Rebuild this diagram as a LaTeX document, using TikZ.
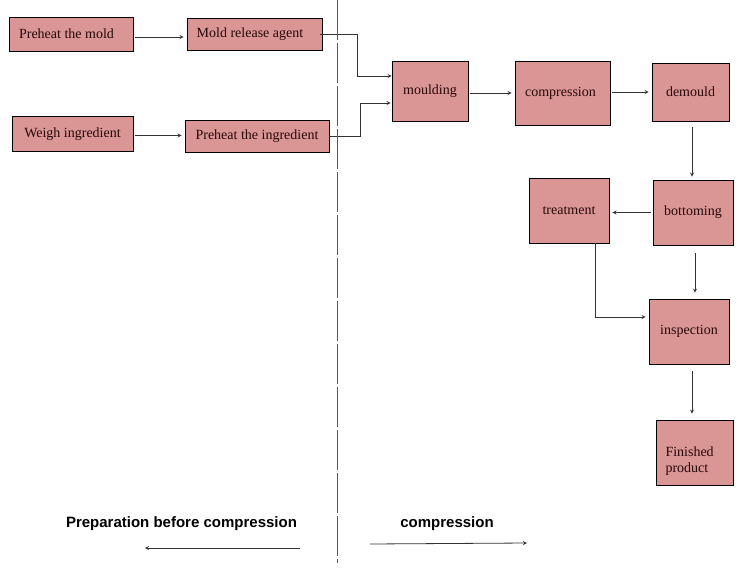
\documentclass[tikz,border=0pt]{standalone}
\usepackage{fontspec}
\setmainfont{Liberation Serif}
\newfontfamily\phasefont{Liberation Sans}
\usetikzlibrary{shapes.geometric, arrows}
\definecolor{boxpink}{RGB}{217,150,148}
\definecolor{boxtext}{RGB}{40,8,8}
\tikzstyle{process} = [rectangle, inner sep=0pt, text centered, draw=black, line width=0.8pt, fill=boxpink, text=boxtext, font=\fontsize{14}{16}\selectfont]
\tikzstyle{arrow} = [line width=0.8pt, draw=black!80, ->, >=stealth, shorten <=2pt, shorten >=3pt]
\tikzstyle{phase} = [font=\phasefont\bfseries\fontsize{15}{18}\selectfont, inner sep=0pt]
\begin{document}
\begin{tikzpicture}[node distance=100pt]
      \useasboundingbox (0,0) rectangle (753pt,-576pt);

      \node (mold) [process, minimum width=124pt, minimum height=34pt] at (71pt,-34pt) {Preheat the mold\hspace*{9pt}};
      \node (release) [process, right of=mold, xshift=83.5pt, minimum width=135pt, minimum height=32pt] {Mold release agent\hspace*{9pt}};
      \node (weigh) [process, below of=mold, xshift=1.5pt, minimum width=121pt, minimum height=35pt] {Weigh ingredient};
      \node (heating) [process, right of=weigh, xshift=84.5pt, yshift=-2.5pt, minimum width=144pt, minimum height=32pt] {Preheat the ingredient};
      \node (moulding) [process, right of=release, xshift=75.5pt, yshift=-57pt, minimum width=76pt, minimum height=60pt] {moulding};
      \node (compress) [process, right of=moulding, xshift=32.5pt, yshift=-2pt, minimum width=95pt, minimum height=64pt] {compression\hspace*{4pt}};
      \node (demould) [process, right of=compress, xshift=28pt, yshift=1pt, minimum width=77pt, minimum height=58pt] {demould};
      \node (bottoming) [process, below of=demould, xshift=2.5pt, yshift=-20.5pt, minimum width=80pt, minimum height=65pt] {bottoming};
      \node (treatment) [process, left of=bottoming, xshift=-24pt, yshift=2pt, minimum width=80pt, minimum height=65pt] {treatment};
      \node (inspection) [process, below of=bottoming, xshift=-4pt, yshift=-19pt, minimum width=80pt, minimum height=65pt] {inspection};
      \node (finished) [process, below of=inspection, xshift=5.5pt, yshift=-21pt, minimum width=77pt, minimum height=65pt] {\parbox{58pt}{\raggedright\rule{0pt}{26pt}Finished\\product}};

      % Phase labels
      \node (preplabel) [phase] at (181.5pt,-524pt) {Preparation before compression};
      \node (complabel) [phase] at (447pt,-524pt) {compression};
      \coordinate (divtop) at (337pt,0pt);
      \coordinate (divbot) at (337pt,-563pt);
      \coordinate (prepstart) at (300pt,-548pt);
      \coordinate (prepend) at (145pt,-548pt);
      \coordinate (compstart) at (370pt,-544pt);
      \coordinate (compend) at (527pt,-543pt);

      % Arrows
      \draw [arrow] ([yshift=-3pt]mold.east) -- ([yshift=-3pt]mold.east -| release.west);
      \draw [arrow] ([yshift=-1.5pt]weigh.east) -- ([yshift=-1.5pt]weigh.east -| heating.west);
      \draw [arrow, shorten <=0pt, shorten >=0pt] ([xshift=-2pt]release.east) -- ++(37pt,0) |- ([yshift=15pt]moulding.west);
      \draw [arrow, shorten <=0pt, shorten >=1pt] (heating.east) -- ++(31pt,0) |- ([yshift=-12pt]moulding.west);
      \draw [arrow] ([yshift=-2pt]moulding.east) -- ([yshift=-2pt]moulding.east -| compress.west);
      \draw [arrow] ([yshift=1pt]compress.east) -- ([yshift=1pt]compress.east -| demould.west);
      \draw [arrow, shorten <=6pt] ([xshift=1.5pt]demould.south) -- ([xshift=-1pt]bottoming.north);
      \draw [arrow] (bottoming.west) -- (bottoming.west -| treatment.east);
      \draw [arrow, shorten <=0pt] ([xshift=26pt]treatment.south) |- ([yshift=14.5pt]inspection.west);
      \draw [arrow, shorten <=8pt, shorten >=6pt] ([xshift=2pt]bottoming.south) -- ([xshift=6pt]inspection.north);
      \draw [arrow, shorten <=7pt, shorten >=6pt] ([xshift=3pt]inspection.south) -- ([xshift=-2.5pt]finished.north);

      % Phase divider and directions
      \draw [line width=1pt, draw=black!65, dash pattern=on 40pt off 3pt] (divtop) -- (divbot);
      \draw [arrow, shorten <=0pt, shorten >=0pt] (prepstart) -- (prepend);
      \draw [arrow, shorten <=0pt, shorten >=0pt] (compstart) -- (compend);

      \end{tikzpicture}
\end{document}
